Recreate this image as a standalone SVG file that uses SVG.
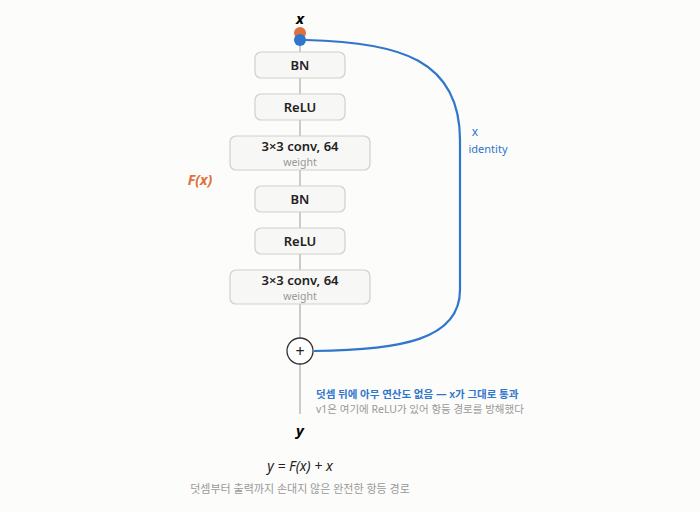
<svg xmlns="http://www.w3.org/2000/svg" width="700" height="512" viewBox="0 0 700 512">
<style>
text{font-family:"Noto Sans","Noto Sans CJK KR",sans-serif}
.box{fill:#f7f7f5;stroke:#cfcfcb;stroke-width:1.2}
.lbl{font-size:13px;font-weight:600;fill:#222;text-anchor:middle}
.sub{font-size:10.5px;fill:#999;text-anchor:middle}
.wire{stroke:#bbb;stroke-width:1.5;fill:none}
</style>
<rect width="700" height="512" fill="#fcfcfb"/>
<g id="connectors">
<line class="wire" x1="300" y1="40" x2="300" y2="338"/>
<line class="wire" x1="300" y1="364" x2="300" y2="414"/>
<path d="M306,40 C400,42 460,60 460,140 L460,290 C460,340 400,350 314,351" fill="none" stroke="#2f76cc" stroke-width="2.2"/>
</g>
<g id="input"><text x="300" y="24" font-size="15" font-weight="700" font-style="italic" text-anchor="middle">x</text>
<circle cx="300" cy="33" r="6" fill="#e0703c"/><circle cx="300" cy="40" r="6" fill="#2f76cc"/></g>
<g id="bn1"><rect class="box" x="255" y="52" width="90" height="26" rx="6"/><text class="lbl" x="300" y="70">BN</text></g>
<g id="relu1"><rect class="box" x="255" y="94" width="90" height="26" rx="6"/><text class="lbl" x="300" y="112">ReLU</text></g>
<g id="conv1"><rect class="box" x="230" y="136" width="140" height="34" rx="6"/><text class="lbl" x="300" y="151">3×3 conv, 64</text><text class="sub" x="300" y="166">weight</text></g>
<g id="bn2"><rect class="box" x="255" y="186" width="90" height="26" rx="6"/><text class="lbl" x="300" y="204">BN</text></g>
<g id="relu2"><rect class="box" x="255" y="228" width="90" height="26" rx="6"/><text class="lbl" x="300" y="246">ReLU</text></g>
<g id="conv2"><rect class="box" x="230" y="270" width="140" height="34" rx="6"/><text class="lbl" x="300" y="285">3×3 conv, 64</text><text class="sub" x="300" y="300">weight</text></g>
<g id="add"><circle cx="300" cy="351" r="13" fill="#fff" stroke="#333" stroke-width="1.3"/><text x="300" y="356.5" font-size="16" text-anchor="middle" fill="#222">+</text></g>
<g id="fx"><text x="200" y="185" font-size="14" font-weight="700" font-style="italic" fill="#e0703c" text-anchor="middle">F(x)</text></g>
<g id="identity"><text x="475" y="136" font-size="12" fill="#2f76cc" text-anchor="middle">x</text><text x="488" y="153" font-size="11" fill="#2f76cc" text-anchor="middle">identity</text></g>
<g id="notes"><text x="316" y="398" font-size="10.5" font-weight="600" fill="#2f76cc">덧셈 뒤에 아무 연산도 없음 — x가 그대로 통과</text>
<text x="316" y="413" font-size="10.5" fill="#999">v1은 여기에 ReLU가 있어 항등 경로를 방해했다</text></g>
<g id="output"><text x="300" y="436" font-size="15" font-weight="700" font-style="italic" text-anchor="middle">y</text></g>
<text x="300" y="471" font-size="14" font-style="italic" fill="#222" text-anchor="middle">y = F(x) + x</text>
<text x="300" y="493" font-size="11" fill="#999" text-anchor="middle">덧셈부터 출력까지 손대지 않은 완전한 항등 경로</text>
</svg>
